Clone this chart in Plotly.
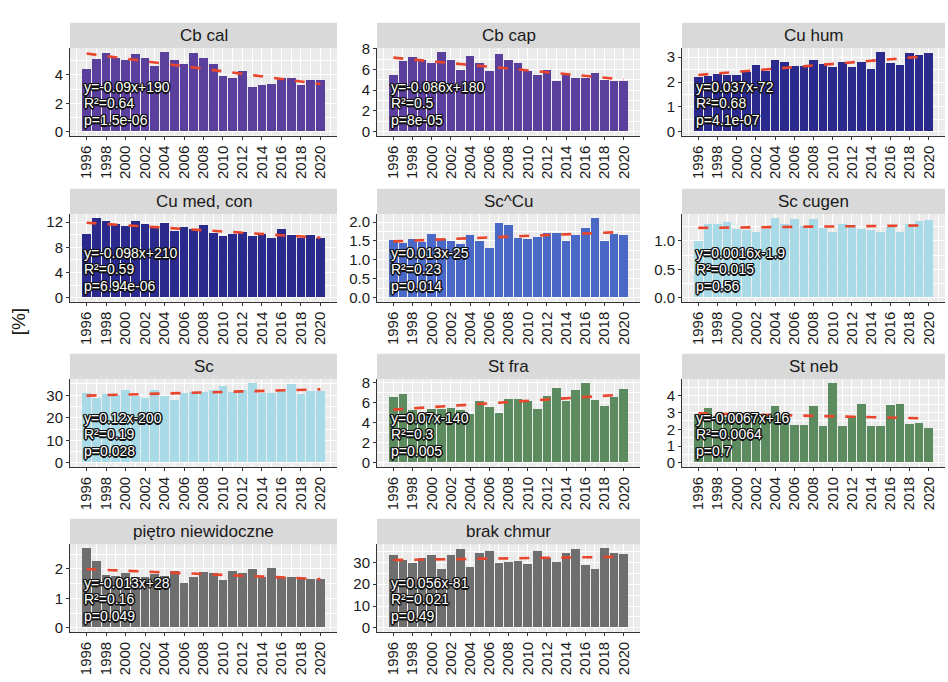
import numpy as np
import plotly.graph_objects as go

# ---------------------------------------------------------------- data
years = list(range(1996, 2021))

cb_cal = [4.4, 5.1, 5.5, 5.2, 5.0, 5.45, 5.15, 4.6, 5.6, 5.0, 4.75, 5.5, 5.2, 4.75, 3.9,
          3.75, 4.25, 3.15, 3.3, 3.35, 3.75, 3.75, 3.25, 3.6, 3.6]
cb_cap = [5.4, 6.8, 7.2, 6.9, 6.55, 7.65, 6.85, 5.95, 7.3, 6.55, 5.8, 7.5, 6.85, 6.55, 5.85,
          5.4, 5.9, 4.85, 5.5, 5.15, 5.15, 5.6, 4.95, 4.85, 4.9]
cu_hum = [2.2, 2.25, 2.33, 2.28, 2.29, 2.4, 2.68, 2.42, 2.87, 2.8, 2.62, 2.65, 2.87, 2.7,
          2.6, 2.8, 2.6, 2.78, 2.5, 3.2, 2.76, 2.66, 3.15, 3.07, 3.17]
cu_med_con = [10.0, 12.6, 12.2, 11.7, 11.4, 12.1, 11.6, 11.0, 11.8, 10.5, 11.2, 10.9, 11.5,
              10.2, 9.7, 10.0, 10.3, 9.8, 10.0, 9.4, 10.9, 9.9, 9.5, 9.9, 9.5]
sc_cu = [1.52, 1.43, 1.54, 1.46, 1.67, 1.54, 1.5, 1.4, 1.64, 1.5, 1.32, 1.96, 1.92, 1.56,
         1.54, 1.6, 1.69, 1.69, 1.48, 1.64, 1.83, 2.1, 1.5, 1.68, 1.65]
sc_cugen = [1.0, 1.3, 1.3, 1.33, 1.21, 1.18, 1.16, 1.21, 1.4, 1.3, 1.38, 1.26, 1.39, 1.22,
            1.16, 1.29, 1.28, 1.21, 1.19, 1.15, 1.24, 1.15, 1.29, 1.34, 1.37]
sc = [30.7, 28.6, 30.4, 30.0, 32.4, 29.6, 28.6, 32.4, 29.3, 27.9, 31.0, 31.4, 31.4, 32.4,
      33.9, 31.4, 32.1, 35.3, 30.7, 30.7, 31.7, 35.0, 30.4, 31.9, 31.7]
st_fra = [6.55, 6.8, 5.2, 4.7, 5.3, 5.35, 5.45, 5.2, 4.8, 6.1, 5.5, 4.9, 6.3, 6.3, 6.1,
          5.35, 6.6, 7.45, 6.15, 7.25, 7.9, 6.25, 5.6, 6.5, 7.35]
st_neb = [2.9, 3.25, 2.75, 2.7, 3.0, 2.8, 2.75, 2.75, 3.35, 2.6, 2.25, 2.25, 3.4, 2.2,
          4.75, 2.15, 2.75, 3.48, 2.2, 2.15, 3.42, 3.48, 2.32, 2.38, 2.07]
pietro_niewidoczne = [2.7, 2.27, 1.78, 1.75, 1.86, 1.7, 1.7, 1.82, 1.75, 1.91, 1.5, 1.73,
                      1.9, 1.86, 1.6, 1.93, 1.84, 1.97, 1.71, 2.02, 1.72, 1.71, 1.67, 1.64, 1.64]
brak_chmur = [33.0, 31.1, 29.3, 31.6, 33.3, 26.8, 33.0, 36.0, 27.9, 34.2, 34.8, 29.3, 29.8,
              30.4, 28.9, 34.8, 31.6, 29.8, 34.2, 36.0, 28.6, 26.8, 36.4, 34.2, 33.8]

panel_titles = ["Cb cal", "Cb cap", "Cu hum", "Cu med, con", "Sc^Cu", "Sc cugen",
                "Sc", "St fra", "St neb", "piętro niewidoczne", "brak chmur"]

fit_labels = [
    ["y=-0.09x+190", "R²=0.64", "p=1.5e-06"],
    ["y=-0.086x+180", "R²=0.5", "p=8e-05"],
    ["y=0.037x-72", "R²=0.68", "p=4.1e-07"],
    ["y=-0.098x+210", "R²=0.59", "p=6.94e-06"],
    ["y=0.013x-25", "R²=0.23", "p=0.014"],
    ["y=0.0016x-1.9", "R²=0.015", "p=0.56"],
    ["y=0.12x-200", "R²=0.19", "p=0.028"],
    ["y=0.07x-140", "R²=0.3", "p=0.005"],
    ["y=-0.0067x+16", "R²=0.0064", "p=0.7"],
    ["y=-0.013x+28", "R²=0.16", "p=0.049"],
    ["y=0.056x-81", "R²=0.021", "p=0.49"],
]

y_tick_values = [
    [0, 2, 4], [0, 2, 4, 6, 8], [0, 1, 2, 3], [0, 4, 8, 12], [0, 0.5, 1, 1.5, 2],
    [0, 0.5, 1], [0, 10, 20, 30], [0, 2, 4, 6, 8], [0, 1, 2, 3, 4], [0, 1, 2],
    [0, 10, 20, 30],
]
y_tick_text = [
    ["0", "2", "4"], ["0", "2", "4", "6", "8"], ["0", "1", "2", "3"], ["0", "4", "8", "12"],
    ["0.0", "0.5", "1.0", "1.5", "2.0"], ["0.0", "0.5", "1.0"], ["0", "10", "20", "30"],
    ["0", "2", "4", "6", "8"], ["0", "1", "2", "3", "4"], ["0", "1", "2"],
    ["0", "10", "20", "30"],
]
x_tick_values = list(range(1996, 2021, 2))

series = [cb_cal, cb_cap, cu_hum, cu_med_con, sc_cu, sc_cugen, sc, st_fra, st_neb,
          pietro_niewidoczne, brak_chmur]

# ---------------------------------------------------------------- styling
PURPLE = "#5a3f9c"
NAVY = "#2a2a8c"
BLUE = "#4a68c6"
CYAN = "#a8dbe7"
GREEN = "#5d8b60"
GREY = "#6e6e6e"
bar_colors = [PURPLE, PURPLE, NAVY, NAVY, BLUE, CYAN, CYAN, GREEN, GREEN, GREY, GREY]

W, H = 948, 682
COLS = [(70, 337), (377, 640), (682, 945)]
STRIP_TOPS = [15, 184, 352, 520]
STRIP_H = 26
PANEL_H = 89
FONT = "Liberation Sans, Arial, sans-serif"
OUTLINE = ", ".join(f"{dx}px {dy}px 0 #111" for dx, dy in
                    [(1, 1), (-1, -1), (1, -1), (-1, 1), (0, 1.5), (0, -1.5),
                     (1.5, 0), (-1.5, 0)])

fig = go.Figure()

for i, (vals, title) in enumerate(zip(series, panel_titles)):
    r, c = divmod(i, 3)
    sfx = "" if i == 0 else str(i + 1)
    xa, ya = "x" + sfx, "y" + sfx
    x0, x1 = COLS[c]
    st = STRIP_TOPS[r]
    top = st + STRIP_H
    bot = top + PANEL_H

    fig.add_trace(go.Bar(
        x=years, y=vals, width=0.9, marker=dict(color=bar_colors[i], line=dict(width=0)),
        xaxis=xa, yaxis=ya, showlegend=False, hoverinfo="x+y"))

    # least-squares trend over the yearly values
    k, b = np.polyfit(years, vals, 1)
    tx = np.array([years[0], years[-1]], dtype=float)
    fig.add_trace(go.Scatter(
        x=tx, y=k * tx + b, mode="lines", xaxis=xa, yaxis=ya, showlegend=False,
        line=dict(color="#e8452c", width=2.6, dash="10px,11px"), hoverinfo="skip"))

    yt = y_tick_values[i]
    step = yt[1] - yt[0]
    minor_vals = [v + step / 2 for v in yt]
    vmax = max(vals)
    fig.layout["xaxis" + sfx] = dict(
        domain=[x0 / W, x1 / W], anchor=ya, range=[1994.3, 2021.7],
        tickmode="array", tickvals=x_tick_values, tickangle=-90,
        ticks="outside", ticklen=3, tickcolor="#333", showline=True,
        linecolor="#333", linewidth=1, showgrid=True, gridcolor="white", gridwidth=1,
        minor=dict(dtick=1, tick0=1995, showgrid=True, gridcolor="white", gridwidth=0.5),
        tickfont=dict(family=FONT, size=15, color="#1a1a1a"), zeroline=False,
        fixedrange=True)
    fig.layout["yaxis" + sfx] = dict(
        domain=[1 - bot / H, 1 - top / H], anchor=xa,
        range=[-0.05 * vmax, 1.05 * vmax],
        tickmode="array", tickvals=yt, ticktext=y_tick_text[i],
        ticks="outside", ticklen=3, tickcolor="#333", showline=True,
        linecolor="#333", linewidth=1, showgrid=True, gridcolor="white", gridwidth=1,
        minor=dict(tickmode="array", tickvals=minor_vals, showgrid=True,
                   gridcolor="white", gridwidth=0.5),
        tickfont=dict(family=FONT, size=15, color="#1a1a1a"), zeroline=False,
        fixedrange=True)

    # facet strip
    fig.add_shape(type="rect", xref="paper", yref="paper",
                  x0=x0 / W, x1=x1 / W, y0=1 - top / H, y1=1 - st / H,
                  fillcolor="#d9d9d9", line=dict(width=0), layer="below")
    fig.add_annotation(xref="paper", yref="paper", x=(x0 + x1) / 2 / W,
                       y=1 - (st + STRIP_H / 2) / H, text=title, showarrow=False,
                       font=dict(family=FONT, size=17, color="#1a1a1a"),
                       xanchor="center", yanchor="middle")

    # regression statistics
    for j, line in enumerate(fit_labels[i]):
        fig.add_annotation(
            xref=xa + " domain", yref=ya + " domain", x=0.045, y=0.555 - j * 0.185,
            text=line, showarrow=False, xanchor="left", yanchor="middle",
            font=dict(family=FONT, size=14, color="white", shadow=OUTLINE))

fig.add_annotation(xref="paper", yref="paper", x=18 / W, y=1 - 320 / H, text="[%]",
                   textangle=-90, showarrow=False, xanchor="center", yanchor="middle",
                   font=dict(family=FONT, size=19, color="#1a1a1a"))

fig.update_layout(
    width=W, height=H, margin=dict(l=0, r=0, t=0, b=0),
    paper_bgcolor="white", plot_bgcolor="#ebebeb", bargap=0,
    font=dict(family=FONT), showlegend=False)

fig.write_html("out.html", include_plotlyjs=True, config={"displayModeBar": False})
